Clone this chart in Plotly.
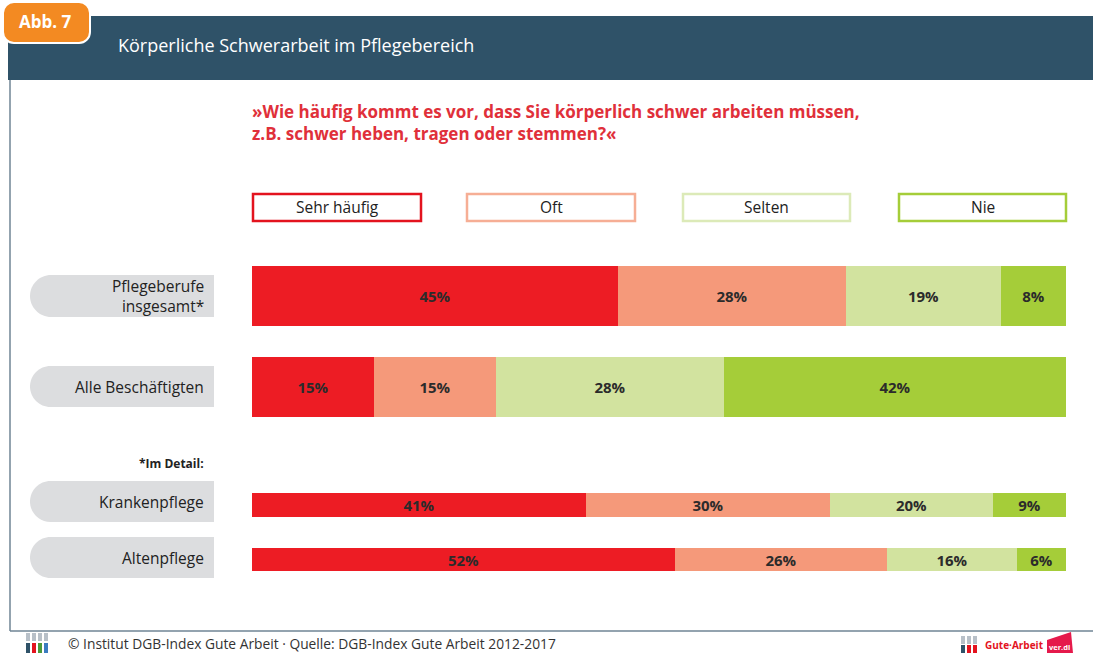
import plotly.graph_objects as go

W, H = 1093, 653

# Daten
gruppen = ["Pflegeberufe<br>insgesamt*", "Alle Beschäftigten", "Krankenpflege", "Altenpflege"]
antworten = ["Sehr häufig", "Oft", "Selten", "Nie"]
sehr_haeufig = [45, 15, 41, 52]
oft = [28, 15, 30, 26]
selten = [19, 28, 20, 16]
nie = [8, 42, 9, 6]
werte = [sehr_haeufig, oft, selten, nie]

farben = ["#ED1C24", "#F5997A", "#D2E39F", "#A5CD39"]
legend_rand = ["#E3131E", "#F6AE95", "#DCEAB8", "#A5CD39"]

# Layout in Pixeln (Zeilenmitte / Balkenhöhe)
zeile_y = [296, 387, 505, 559.5]
balken_h = [60, 60, 24, 23]
pill_y = [(275, 317), (366, 407), (481, 522), (537, 578)]
X0, X1 = 252, 1066
FONT = "Open Sans"


def px(x):
    return x / W


def py(y):
    return 1 - y / H


def text(x, y, t, size, color="#222", xanchor="center", align="center"):
    return dict(x=px(x), y=py(y), xref="paper", yref="paper", text=t, showarrow=False,
                xanchor=xanchor, yanchor="middle", align=align,
                font=dict(family=FONT, size=size, color=color))


fig = go.Figure()

for name, vals, col in zip(antworten, werte, farben):
    fig.add_trace(go.Bar(
        y=zeile_y, x=vals, width=balken_h, orientation="h", name=name,
        marker=dict(color=col, line=dict(width=0)),
        text=[f"<b>{v}%</b>" for v in vals], textposition="inside",
        insidetextanchor="middle", textangle=0,
        textfont=dict(family=FONT, size=15, color="#2b2b2b"),
        hoverinfo="skip", showlegend=False,
    ))

shapes = []
ann = []

# Kopfzeile
shapes.append(dict(type="rect", xref="paper", yref="paper", x0=px(8), x1=px(W), y0=py(80), y1=py(16),
                   fillcolor="#2F5268", line=dict(width=0), layer="below"))
# Rahmenlinien
shapes.append(dict(type="line", xref="paper", yref="paper", x0=px(10), x1=px(10), y0=py(80), y1=py(631),
                   line=dict(color="#6F8494", width=1.5)))
shapes.append(dict(type="line", xref="paper", yref="paper", x0=px(10), x1=px(W), y0=py(631), y1=py(631),
                   line=dict(color="#6F8494", width=1.5)))


# Abb.-Reiter (abgerundet)
def rundrect(x0, y0, x1, y1, r):
    k = 0.55 * r
    return (f"M {px(x0 + r)},{py(y0)} L {px(x1 - r)},{py(y0)} "
            f"C {px(x1 - r + k)},{py(y0)} {px(x1)},{py(y0 + r - k)} {px(x1)},{py(y0 + r)} "
            f"L {px(x1)},{py(y1 - r)} "
            f"C {px(x1)},{py(y1 - r + k)} {px(x1 - r + k)},{py(y1)} {px(x1 - r)},{py(y1)} "
            f"L {px(x0 + r)},{py(y1)} "
            f"C {px(x0 + r - k)},{py(y1)} {px(x0)},{py(y1 - r + k)} {px(x0)},{py(y1 - r)} "
            f"L {px(x0)},{py(y0 + r)} "
            f"C {px(x0)},{py(y0 + r - k)} {px(x0 + r - k)},{py(y0)} {px(x0 + r)},{py(y0)} Z")


shapes.append(dict(type="path", xref="paper", yref="paper", path=rundrect(3, 2, 90, 43, 11),
                   fillcolor="#F38A22", line=dict(color="white", width=2)))
ann.append(text(45, 22, "<b>Abb. 7</b>", 17, "white"))
ann.append(text(116, 45, "Körperliche Schwerarbeit im Pflegebereich", 18, "white", xanchor="left"))

# Frage
ann.append(text(250, 122, "<b>»Wie häufig kommt es vor, dass Sie körperlich schwer arbeiten müssen,<br>"
                          "z.B. schwer heben, tragen oder stemmen?«</b>",
                17, "#E0303A", xanchor="left", align="left"))

# Legendenkästen
leg_x = [(253, 421), (467, 635), (683, 850), (899, 1066)]
for (a, b), name, col in zip(leg_x, antworten, legend_rand):
    shapes.append(dict(type="rect", xref="paper", yref="paper", x0=px(a), x1=px(b), y0=py(221), y1=py(194),
                       fillcolor="white", line=dict(color=col, width=2.5)))
    ann.append(text((a + b) / 2, 207.5, name, 15.5))


# Zeilenbeschriftungen (graue Pillen)
def pille(x0, y0, x1, y1):
    r = (y1 - y0) / 2
    k = 0.55 * r
    return (f"M {px(x1)},{py(y0)} L {px(x0 + r)},{py(y0)} "
            f"C {px(x0 + r - k)},{py(y0)} {px(x0)},{py(y0 + r - k)} {px(x0)},{py(y0 + r)} "
            f"C {px(x0)},{py(y0 + r + k)} {px(x0 + r - k)},{py(y1)} {px(x0 + r)},{py(y1)} "
            f"L {px(x1)},{py(y1)} Z")


for (a, b), label in zip(pill_y, gruppen):
    shapes.append(dict(type="path", xref="paper", yref="paper", path=pille(30, a, 214, b),
                       fillcolor="#DCDDDF", line=dict(width=0), layer="below"))
    ann.append(text(206, (a + b) / 2, label, 15.5, xanchor="right", align="right"))

ann.append(text(206, 463, "<b>*Im Detail:</b>", 12, xanchor="right"))

# Fußzeile
ann.append(text(66, 643, "© Institut DGB-Index Gute Arbeit · Quelle: DGB-Index Gute Arbeit 2012-2017",
                13.8, "#333", xanchor="left"))
# kleine Logos
for i, c in enumerate(["#2F5268", "#E3131E", "#4C9A3C", "#3B7CC0"]):
    shapes.append(dict(type="rect", xref="paper", yref="paper", x0=px(26 + i * 6), x1=px(30 + i * 6),
                       y0=py(653), y1=py(643), fillcolor=c, line=dict(width=0)))
    shapes.append(dict(type="rect", xref="paper", yref="paper", x0=px(26 + i * 6), x1=px(30 + i * 6),
                       y0=py(641), y1=py(633), fillcolor="#B8C0C8", line=dict(width=0)))
for i, c in enumerate(["#2F5268", "#E3131E", "#E3131E"]):
    shapes.append(dict(type="rect", xref="paper", yref="paper", x0=px(961 + i * 6), x1=px(965 + i * 6),
                       y0=py(653), y1=py(645), fillcolor=c, line=dict(width=0)))
    shapes.append(dict(type="rect", xref="paper", yref="paper", x0=px(961 + i * 6), x1=px(965 + i * 6),
                       y0=py(644), y1=py(636), fillcolor="#B8C0C8", line=dict(width=0)))
ann.append(text(983, 645, "<b>Gute·Arbeit</b>", 10, "#E3131E", xanchor="left"))
shapes.append(dict(type="path", xref="paper", yref="paper",
                   path=f"M {px(1047)},{py(640)} L {px(1071)},{py(632)} L {px(1073)},{py(653)} L {px(1047)},{py(653)} Z",
                   fillcolor="#E5194B", line=dict(width=0)))
ann.append(text(1059, 647, "<b>ver.di</b>", 7.5, "white"))

fig.update_layout(
    width=W, height=H, autosize=False,
    margin=dict(l=0, r=0, t=0, b=0),
    paper_bgcolor="white", plot_bgcolor="rgba(0,0,0,0)",
    barmode="stack", bargap=0,
    xaxis=dict(domain=[px(X0), px(X1)], range=[0, 100], visible=False, fixedrange=True),
    yaxis=dict(domain=[0, 1], range=[H, 0], visible=False, fixedrange=True),
    uniformtext=dict(minsize=15, mode="show"),
    shapes=shapes, annotations=ann,
    font=dict(family=FONT),
)

fig.write_html("out.html", config={"displayModeBar": False},
               post_script="document.body.style.margin='0';document.body.style.overflow='hidden';")
